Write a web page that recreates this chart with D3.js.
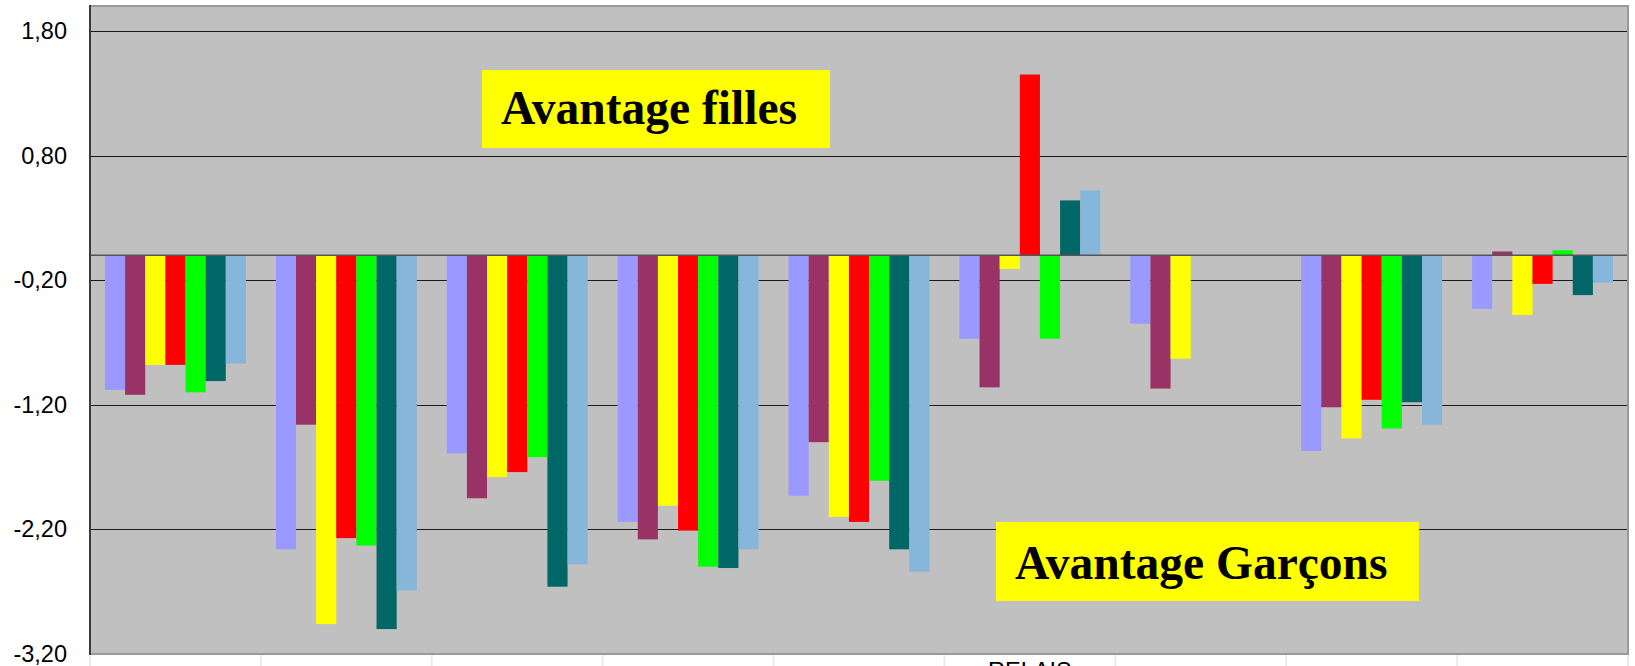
<!DOCTYPE html>
<html>
<head>
<meta charset="utf-8">
<script src="https://cdn.jsdelivr.net/npm/d3@7"></script>
<style>
  html, body { margin: 0; padding: 0; background: #ffffff; overflow: hidden; }
  svg { display: block; }
</style>
</head>
<body>
<svg id="chart" width="1635" height="666"></svg>
<script>
// ---- Data ----
const categories = ["C1", "C2", "C3", "C4", "C5", "C6", "C7", "C8", "C9"];
const categoryLabels = ["", "", "", "", "", "RELAIS", "", "", ""];
const seriesNames = ["Série 1", "Série 2", "Série 3", "Série 4", "Série 5", "Série 6", "Série 7"];
const seriesColors = ["#9999FF", "#993366", "#FFFF00", "#FF0000", "#00FF00", "#006666", "#86B6DA"];

const serie1 = [-1.08, -2.36, -1.59, -2.14, -1.93, -0.67, -0.55, -1.57, -0.43];
const serie2 = [-1.12, -1.36, -1.95, -2.28, -1.50, -1.06, -1.07, -1.22, 0.03];
const serie3 = [-0.88, -2.96, -1.78, -2.01, -2.10, -0.11, -0.83, -1.47, -0.48];
const serie4 = [-0.88, -2.27, -1.74, -2.21, -2.14, 1.45, null, -1.16, -0.23];
const serie5 = [-1.10, -2.33, -1.62, -2.50, -1.81, -0.67, null, -1.39, 0.04];
const serie6 = [-1.01, -3.00, -2.66, -2.51, -2.36, 0.44, null, -1.18, -0.32];
const serie7 = [-0.87, -2.69, -2.48, -2.36, -2.54, 0.52, null, -1.36, -0.22];
const seriesValues = [serie1, serie2, serie3, serie4, serie5, serie6, serie7];

const yTickValues = [-3.2, -2.2, -1.2, -0.2, 0.8, 1.8];
const yTickLabels = ["-3,20", "-2,20", "-1,20", "-0,20", "0,80", "1,80"];
const gridValues = [-2.2, -1.2, -0.2, 0.8, 1.8];

const noteFilles = "Avantage filles";
const noteGarcons = "Avantage Garçons";

// ---- Layout ----
const svg = d3.select("#chart");
const plot = { left: 90, right: 1628, top: 6, bottom: 654 };

const y = d3.scaleLinear().domain([-3.2, 2.0]).range([plot.bottom, plot.top]);
const x0 = d3.scaleBand().domain(categories).range([plot.left, plot.right]).paddingInner(0).paddingOuter(0);
const bw = x0.bandwidth();
const x1 = d3.scaleBand().domain(d3.range(seriesNames.length))
  .range([bw * 0.0876, bw * (1 - 0.0876)]).padding(0);

// plot background
svg.append("rect")
  .attr("x", plot.left).attr("y", plot.top)
  .attr("width", plot.right - plot.left).attr("height", plot.bottom - plot.top)
  .attr("fill", "#C0C0C0");

// gridlines
svg.append("g").selectAll("line").data(gridValues).join("line")
  .attr("x1", plot.left).attr("x2", plot.right)
  .attr("y1", d => Math.round(y(d)) + 0.5).attr("y2", d => Math.round(y(d)) + 0.5)
  .attr("stroke", "#1a1a1a").attr("stroke-width", 1.2);

// bars
const groups = svg.append("g").selectAll("g").data(categories).join("g")
  .attr("transform", d => `translate(${x0(d)},0)`);

groups.selectAll("rect")
  .data((c, ci) => seriesValues.map((vals, si) => ({ si, v: vals[ci] })).filter(d => d.v !== null))
  .join("rect")
  .attr("x", d => x1(d.si))
  .attr("width", x1.bandwidth())
  .attr("y", d => Math.min(y(0), y(d.v)))
  .attr("height", d => Math.abs(y(d.v) - y(0)))
  .attr("fill", d => seriesColors[d.si]);

// zero (category) axis line
svg.append("line")
  .attr("x1", plot.left).attr("x2", plot.right)
  .attr("y1", y(0)).attr("y2", y(0))
  .attr("stroke", "#555555").attr("stroke-width", 1.6);

// plot border (top / right / bottom)
svg.append("path")
  .attr("d", `M${plot.left},${plot.top}H${plot.right}V${plot.bottom}H${plot.left}`)
  .attr("fill", "none").attr("stroke", "#9a9a9a").attr("stroke-width", 2);

// left value axis line
svg.append("line")
  .attr("x1", plot.left).attr("x2", plot.left)
  .attr("y1", plot.top - 1).attr("y2", plot.bottom + 1)
  .attr("stroke", "#3a3a3a").attr("stroke-width", 2);

// y axis labels
const yAxis = d3.axisLeft(y)
  .tickValues(yTickValues)
  .tickFormat((d, i) => yTickLabels[i])
  .tickSize(0)
  .tickPadding(23);
const yg = svg.append("g").attr("transform", `translate(${plot.left},0)`).call(yAxis);
yg.select(".domain").remove();
yg.selectAll("text")
  .attr("font-family", "Liberation Sans, Arial, sans-serif")
  .attr("font-size", 23.5)
  .attr("fill", "#000");

// category separators below the plot
const bounds = categories.map(c => x0(c)).concat([plot.right]);
svg.append("g").selectAll("line").data(bounds).join("line")
  .attr("x1", d => d).attr("x2", d => d)
  .attr("y1", plot.bottom + 1).attr("y2", 680)
  .attr("stroke", "#ebebeb").attr("stroke-width", 2);

// category labels (mostly cut by the bottom edge, as in the reference)
svg.append("g").selectAll("text").data(categories).join("text")
  .attr("x", d => x0(d) + bw / 2)
  .attr("y", 679)
  .attr("text-anchor", "middle")
  .attr("font-family", "Liberation Sans, Arial, sans-serif")
  .attr("font-size", 23.5)
  .attr("fill", "#000")
  .text((d, i) => categoryLabels[i]);

// annotation boxes
function note(x, yTop, w, h, tx, ty, label) {
  svg.append("rect").attr("x", x).attr("y", yTop).attr("width", w).attr("height", h).attr("fill", "#FFFF00");
  svg.append("text").attr("x", tx).attr("y", ty)
    .attr("font-family", "Liberation Serif, 'Times New Roman', serif")
    .attr("font-weight", "bold")
    .attr("font-size", 47.5)
    .attr("fill", "#000")
    .text(label);
}
note(482, 70, 348, 78, 501, 123.5, noteFilles);
note(996, 522, 423, 79, 1015, 579, noteGarcons);
</script>
</body>
</html>
